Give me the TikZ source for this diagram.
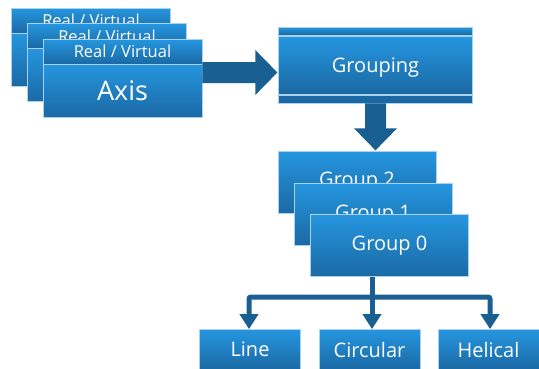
\documentclass[tikz,border=0pt]{standalone}
\usepackage{fontspec}
\setmainfont{Open Sans}
\usetikzlibrary{arrows.meta}
\definecolor{ctop}{HTML}{2596DF}
\definecolor{cbot}{HTML}{1B69A4}
\definecolor{cline}{HTML}{A8D2EE}
\definecolor{carrow}{HTML}{1A5F92}
\begin{document}
\begin{tikzpicture}[x=1pt,y=-1pt,
  card/.style={rectangle, draw=cline, line width=0.7pt, top color=ctop, bottom color=cbot,
    text=white, inner sep=0pt, minimum width=159pt},
  hdr/.style={card, minimum height=25pt, font=\fontsize{16.5}{16.5}\selectfont},
  bdy/.style={card, minimum height=53pt, font=\fontsize{27}{27}\selectfont},
  grp/.style={card, minimum width=158pt, minimum height=62pt, font=\fontsize{20}{20}\selectfont},
  leaf/.style={card, minimum width=101pt, minimum height=40pt, font=\fontsize{20}{20}\selectfont},
  conn/.style={draw=carrow, line width=5pt, -{Triangle[length=15pt,width=18pt]}},
  bigarrow/.style={fill=carrow, draw=none}]
\useasboundingbox (0,0) rectangle (539,368);
% axis stack
\node[hdr] (h1) at (91,20.5) {Real / Virtual};
\node[bdy] (b1) at (91,59.5) {};
\node[hdr] (h2) at (107,36) {Real / Virtual};
\node[bdy] (b2) at (107,75) {};
\node[hdr] (h3) at (122.5,51.5) {Real / Virtual};
\node[bdy] (b3) at (122.5,90.5) {Axis};
% right arrow
\coordinate (ra) at (b3.east |- 0,72.5);
\fill[bigarrow] (ra) ++(0,-10.5) -- ++(53,0) -- ++(0,-12) -- ++(22,22.5) -- ++(-22,22.5) -- ++(0,-12) -- ++(-53,0) -- cycle;
% grouping
\node[card, minimum width=194pt, minimum height=8pt] (gt) at (375.5,31) {};
\node[card, minimum width=194pt, minimum height=58pt, font=\fontsize{20}{20}\selectfont, text height=18.5pt, text depth=4pt] (g) at (375.5,65) {Grouping};
\node[rectangle, draw=cline, line width=0.7pt, fill=cbot, inner sep=0pt, minimum width=194pt, minimum height=8pt] (gb) at (375.5,99) {};
% down arrow
\coordinate (da) at (gb.south);
\fill[bigarrow] (da) ++(-10.5,0) -- ++(21,0) -- ++(0,25) -- ++(11,0) -- ++(-21.5,22) -- ++(-21.5,-22) -- ++(11,0) -- cycle;
% groups
\node[grp] (g2) at (357,182) {Group 2};
\node[grp] (g1) at (373,214.5) {Group 1};
\node[grp] (g0) at (389.5,245.5) {Group 0};
% leaves
\node[leaf] (l1) at (250,349.5) {Line};
\node[leaf] (l2) at (369.5,349.5) {Circular};
\node[leaf] (l3) at (488.5,349.5) {Helical};
% connectors
\coordinate (s) at (g0.south -| 372,0);
\coordinate (j) at (372,297);
\draw[draw=carrow, line width=5pt] (s) -- (j);
\draw[conn, rounded corners=2pt] (j) -- (249,297) -- (l1.north -| 249,0);
\draw[conn] (s) -- (l2.north -| 372,0);
\draw[conn, rounded corners=2pt] (j) -- (490,297) -- (l3.north -| 490,0);
\end{tikzpicture}
\end{document}
